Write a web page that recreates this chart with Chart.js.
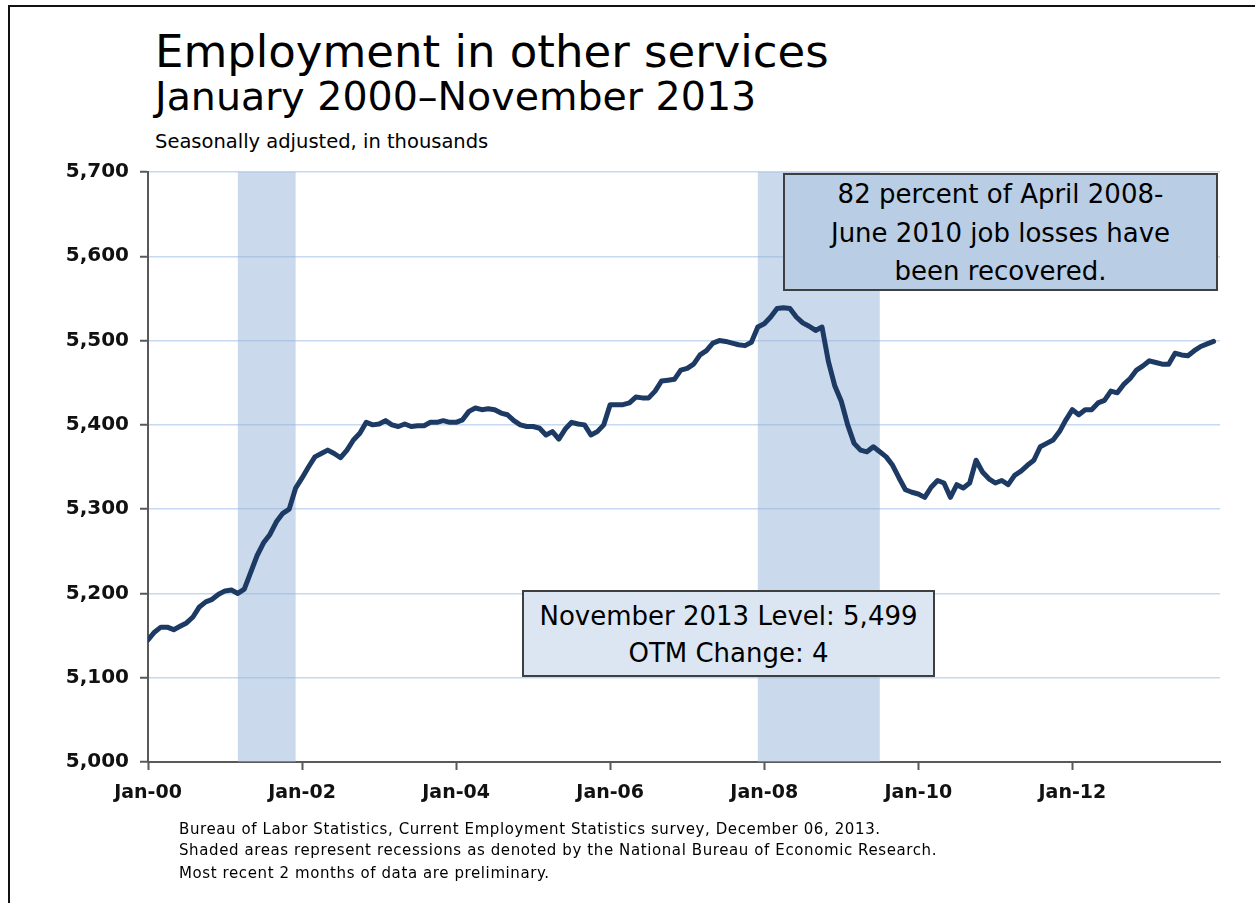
<!DOCTYPE html>
<html>
<head>
<meta charset="utf-8">
<script src="https://cdn.jsdelivr.net/npm/chart.js@4.4.0/dist/chart.umd.min.js"></script>
<style>
  body { margin: 0; background: #fff; font-family: "DejaVu Sans", sans-serif; }
  #wrap { position: relative; width: 1255px; height: 903px; overflow: hidden; }
  #frame { position: absolute; left: 8px; top: 5px; width: 1300px; height: 1000px; border-left: 2px solid #111; border-top: 2px solid #111; }
  canvas { position: absolute; left: 0; top: 0; }
  .t { position: absolute; line-height: 1; white-space: nowrap; color: #000; }
  .box { position: absolute; border: 2px solid #3f3f3f; box-sizing: border-box; }
  .c { text-align: center; }
  .note { font-size: 15px; letter-spacing: 0.6px; }
</style>
</head>
<body>
<div id="wrap">
  <div id="frame"></div>
  <div class="t" style="left:155px;top:29px;font-size:45px;">Employment in other services</div>
  <div class="t" style="left:155px;top:77px;font-size:39.5px;">January 2000–November 2013</div>
  <div class="t" style="left:155px;top:132px;font-size:19.5px;">Seasonally adjusted, in thousands</div>

  <canvas id="empChart" width="1255" height="903"></canvas>

  <div class="box" style="left:783px;top:173px;width:435px;height:118px;background:#b9cde5;"></div>
  <div class="t c" style="left:783px;width:435px;top:181px;font-size:26px;">82 percent of April 2008-</div>
  <div class="t c" style="left:783px;width:435px;top:220px;font-size:26px;">June 2010 job losses have</div>
  <div class="t c" style="left:783px;width:435px;top:258px;font-size:26px;">been recovered.</div>

  <div class="box" style="left:522px;top:590px;width:413px;height:87px;background:#dce6f2;"></div>
  <div class="t c" style="left:522px;width:413px;top:603px;font-size:26px;">November 2013 Level: 5,499</div>
  <div class="t c" style="left:522px;width:413px;top:640px;font-size:26px;">OTM Change: 4</div>

  <div class="t note" style="left:179px;top:822px;">Bureau of Labor Statistics, Current Employment Statistics survey, December 06, 2013.</div>
  <div class="t note" style="left:179px;top:843px;">Shaded areas represent recessions as denoted by the National Bureau of Economic Research.</div>
  <div class="t note" style="left:179px;top:866px;">Most recent 2 months of data are preliminary.</div>
</div>

<script>
// monthly values, Jan 2000 .. Nov 2013 (thousands)
const values2000 = [5145, 5154, 5160, 5160, 5157, 5161, 5165, 5172, 5184, 5190, 5193, 5199];
const values2001 = [5203, 5204, 5200, 5205, 5225, 5245, 5260, 5270, 5285, 5295, 5300, 5325];
const values2002 = [5337, 5350, 5362, 5366, 5370, 5366, 5361, 5370, 5382, 5390, 5403, 5400];
const values2003 = [5401, 5405, 5400, 5398, 5401, 5398, 5399, 5399, 5403, 5403, 5405, 5403];
const values2004 = [5403, 5406, 5416, 5420, 5418, 5419, 5418, 5414, 5412, 5405, 5400, 5398];
const values2005 = [5398, 5396, 5388, 5392, 5383, 5395, 5403, 5401, 5400, 5388, 5392, 5400];
const values2006 = [5424, 5424, 5424, 5426, 5433, 5432, 5432, 5440, 5452, 5453, 5454, 5465];
const values2007 = [5467, 5472, 5483, 5488, 5497, 5500, 5499, 5497, 5495, 5494, 5498, 5516];
const values2008 = [5520, 5528, 5538, 5539, 5538, 5528, 5521, 5517, 5512, 5516, 5475, 5446];
const values2009 = [5428, 5400, 5378, 5370, 5368, 5374, 5368, 5362, 5352, 5337, 5323, 5320];
const values2010 = [5318, 5314, 5326, 5334, 5331, 5314, 5329, 5325, 5331, 5358, 5344, 5336];
const values2011 = [5331, 5334, 5329, 5340, 5345, 5352, 5358, 5374, 5378, 5382, 5392, 5406];
const values2012 = [5418, 5412, 5418, 5418, 5426, 5429, 5440, 5438, 5448, 5455, 5465, 5470];
const values2013 = [5476, 5474, 5472, 5472, 5485, 5483, 5482, 5488, 5493, 5496, 5499];

const tickMonths = [0, 24, 48, 72, 96, 120, 144];
const tickLabels = ['Jan-00', 'Jan-02', 'Jan-04', 'Jan-06', 'Jan-08', 'Jan-10', 'Jan-12'];
const yTicks = [5000, 5100, 5200, 5300, 5400, 5500, 5600, 5700];

// recessions (month index from Jan 2000): Mar 2001-Nov 2001, Dec 2007-Jun 2009
const recessionStart = [14, 95];
const recessionEnd = [23, 114];

const allValues = [].concat(values2000, values2001, values2002, values2003, values2004,
  values2005, values2006, values2007, values2008, values2009, values2010, values2011,
  values2012, values2013);
const points = allValues.map((v, i) => ({ x: i, y: v }));

const shading = {
  id: 'shading',
  beforeDatasetsDraw(chart) {
    const { ctx, chartArea, scales } = chart;
    ctx.save();
    ctx.fillStyle = 'rgba(150, 180, 216, 0.5)';
    for (let i = 0; i < recessionStart.length; i++) {
      const x1 = scales.x.getPixelForValue(recessionStart[i]);
      const x2 = scales.x.getPixelForValue(recessionEnd[i]);
      ctx.fillRect(x1, chartArea.top, x2 - x1, chartArea.bottom - chartArea.top);
    }
    ctx.restore();
  }
};

const ctx = document.getElementById('empChart').getContext('2d');
new Chart(ctx, {
  type: 'line',
  data: {
    datasets: [{
      data: points,
      borderColor: '#1c3a63',
      borderWidth: 5,
      borderJoinStyle: 'round',
      borderCapStyle: 'round',
      pointRadius: 0,
      tension: 0,
      fill: false
    }]
  },
  options: {
    responsive: false,
    animation: false,
    parsing: false,
    layout: { padding: { top: 172, right: 35, left: 0, bottom: 0 } },
    plugins: { legend: { display: false }, tooltip: { enabled: false } },
    scales: {
      x: {
        type: 'linear',
        min: 0,
        max: 167,
        afterFit(scale) { scale.height = 141; },
        afterBuildTicks(scale) { scale.ticks = tickMonths.map(v => ({ value: v })); },
        grid: { display: true, drawOnChartArea: false, drawTicks: true, tickLength: 8, tickColor: '#595959', tickWidth: 2 },
        border: { display: true, color: '#595959', width: 2 },
        ticks: {
          autoSkip: false,
          maxRotation: 0,
          padding: 12,
          color: '#111',
          font: { family: '"DejaVu Sans"', size: 19, weight: 'bold' },
          callback: (v) => tickLabels[tickMonths.indexOf(v)]
        }
      },
      y: {
        min: 5000,
        max: 5700,
        afterFit(scale) { scale.width = 148; },
        afterBuildTicks(scale) { scale.ticks = yTicks.map(v => ({ value: v })); },
        grid: { color: '#c6d9f1', lineWidth: 1.5, tickLength: 8, tickColor: '#595959', tickWidth: 2 },
        border: { display: true, color: '#595959', width: 2 },
        ticks: {
          padding: 11,
          color: '#111',
          font: { family: '"DejaVu Sans"', size: 20, weight: 'bold' },
          callback: (v) => v.toLocaleString('en-US')
        }
      }
    }
  },
  plugins: [shading]
});
</script>
</body>
</html>
